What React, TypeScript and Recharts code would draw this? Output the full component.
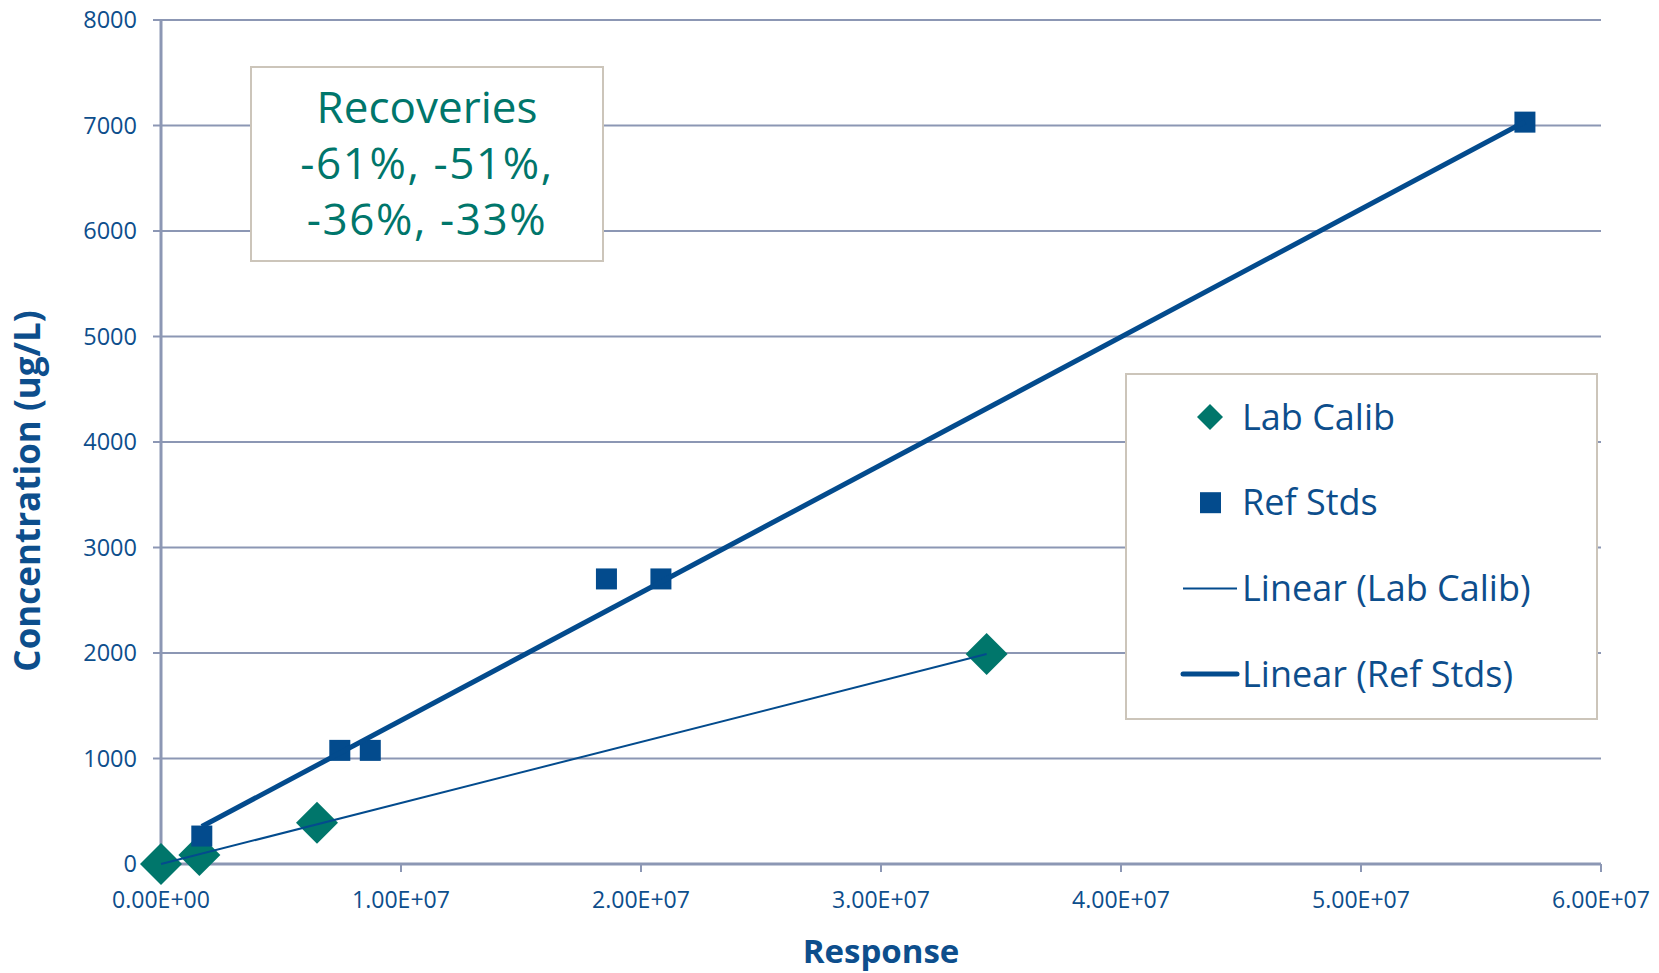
import React from 'react';
import { ScatterChart, Scatter, XAxis, YAxis, CartesianGrid } from 'recharts';

// ---- data ----
const labResponse = [0, 1.6e6, 6.5e6, 3.44e7];
const labConc = [0, 85, 390, 1990];
const refResponse = [1.7e6, 7.45e6, 8.72e6, 1.856e7, 2.083e7, 5.683e7];
const refConc = [265, 1077, 1077, 2702, 2702, 7032];
const labTrendResponse = [0, 3.44e7];
const labTrendConc = [0, 1990];
const refTrendResponse = [1.7e6, 5.683e7];
const refTrendConc = [355, 7035];
const xTicks = [0, 1e7, 2e7, 3e7, 4e7, 5e7, 6e7];
const xTickLabels = ['0.00E+00', '1.00E+07', '2.00E+07', '3.00E+07', '4.00E+07', '5.00E+07', '6.00E+07'];
const yTicks = [0, 1000, 2000, 3000, 4000, 5000, 6000, 7000, 8000];
const recoveryLines = ['Recoveries', '-61%, -51%,', '-36%, -33%'];
const legendLabels = ['Lab Calib', 'Ref Stds', 'Linear (Lab Calib)', 'Linear (Ref Stds)'];
const xTitle = 'Response';
const yTitle = 'Concentration (ug/L)';

const zip = (xs: number[], ys: number[]) => xs.map((x, i) => ({ x, y: ys[i] }));
const labData = zip(labResponse, labConc);
const refData = zip(refResponse, refConc);
const labTrend = zip(labTrendResponse, labTrendConc);
const refTrend = zip(refTrendResponse, refTrendConc);

const FONT = '"Open Sans", "Noto Sans", sans-serif';
const TEXT_BLUE = '#0D4E8C';
const BLUE = '#034B8D';
const TEAL = '#00766B';
const GRID = '#8C97B4';
const BOX = '#CCC5BA';

const Diamond = (props: any) => {
  const { cx, cy } = props;
  const r = 21;
  return <path d={`M${cx},${cy - r}L${cx + r},${cy}L${cx},${cy + r}L${cx - r},${cy}Z`} fill={TEAL} />;
};
const Square = (props: any) => {
  const { cx, cy } = props;
  const s = 21;
  return <rect x={cx - s / 2} y={cy - s / 2} width={s} height={s} fill={BLUE} />;
};
const NoShape = () => <g />;

const XTick = (props: any) => {
  const { x, y, payload } = props;
  const i = xTicks.indexOf(payload.value);
  return (
    <text x={x} y={y} dy="0.71em" textAnchor="middle" fill={TEXT_BLUE} fontFamily={FONT} fontSize={23}
      textLength={98} lengthAdjust="spacingAndGlyphs">
      {i >= 0 ? xTickLabels[i] : ''}
    </text>
  );
};
const YTick = (props: any) => {
  const { x, y, payload } = props;
  return (
    <text x={x} y={y} dy="0.355em" textAnchor="end" fill={TEXT_BLUE} fontFamily={FONT} fontSize={23.5}>
      {String(payload.value)}
    </text>
  );
};

export default function App() {
  return (
    <div style={{ position: 'absolute', left: 0, top: 0, width: 1659, height: 973, background: '#fff' }}>
      <ScatterChart width={1659} height={973} margin={{ top: 20, right: 58, bottom: 0, left: 0 }}>
        <CartesianGrid horizontal vertical={false} stroke={GRID} strokeWidth={2} />
        <XAxis type="number" dataKey="x" domain={[0, 6e7]} ticks={xTicks} height={109}
          axisLine={{ stroke: GRID, strokeWidth: 3 }} tickLine={{ stroke: GRID, strokeWidth: 2 }}
          tickSize={8} tickMargin={20} tick={<XTick />} interval={0} />
        <YAxis type="number" dataKey="y" domain={[0, 8000]} ticks={yTicks} width={161}
          axisLine={{ stroke: GRID, strokeWidth: 3 }} tickLine={{ stroke: GRID, strokeWidth: 2 }}
          tickSize={8} tickMargin={16} tick={<YTick />} interval={0} />
        <Scatter name="Lab Calib" data={labData} shape={<Diamond />} isAnimationActive={false} />
        <Scatter name="Ref Stds" data={refData} shape={<Square />} isAnimationActive={false} />
        <Scatter name="Linear (Lab Calib)" data={labTrend} shape={<NoShape />} line={{ stroke: BLUE, strokeWidth: 2 }}
          lineType="joint" isAnimationActive={false} />
        <Scatter name="Linear (Ref Stds)" data={refTrend} shape={<NoShape />} line={{ stroke: BLUE, strokeWidth: 5 }}
          lineType="joint" isAnimationActive={false} />
      </ScatterChart>
      <svg width={1659} height={973} style={{ position: 'absolute', left: 0, top: 0, pointerEvents: 'none' }}>
        {/* axis titles */}
        <text x={881} y={963} textAnchor="middle" fill={TEXT_BLUE} fontFamily={FONT} fontWeight={700} fontSize={33}>
          {xTitle}
        </text>
        <text x={40} y={491} transform="rotate(-90, 40, 491)" textAnchor="middle" fill={TEXT_BLUE}
          fontFamily={FONT} fontWeight={700} fontSize={35}>
          {yTitle}
        </text>
        {/* recoveries text box */}
        <rect x={251} y={67} width={352} height={194} fill="#fff" stroke={BOX} strokeWidth={2} />
        {recoveryLines.map((t, i) => (
          <text key={t} x={427} y={123 + i * 56} textAnchor="middle" fill={TEAL} fontFamily={FONT} fontSize={44}
            letterSpacing={i === 0 ? 0 : 1.6}>
            {t}
          </text>
        ))}
        {/* legend */}
        <rect x={1126} y={374} width={471} height={345} fill="#fff" stroke={BOX} strokeWidth={2} />
        {legendLabels.map((t, i) => {
          const cy = 417 + i * 85.7;
          let mark: any = null;
          if (i === 0) mark = <path d={`M1210,${cy - 13}L1223,${cy}L1210,${cy + 13}L1197,${cy}Z`} fill={TEAL} />;
          if (i === 1) mark = <rect x={1200} y={cy - 10.5} width={21} height={21} fill={BLUE} />;
          if (i === 2) mark = <line x1={1183} x2={1237} y1={cy} y2={cy} stroke={BLUE} strokeWidth={2} />;
          if (i === 3) mark = <line x1={1183} x2={1237} y1={cy} y2={cy} stroke={BLUE} strokeWidth={5} strokeLinecap="round" />;
          return (
            <g key={t}>
              {mark}
              <text x={1242} y={cy + 12.5} fill={TEXT_BLUE} fontFamily={FONT} fontSize={36}>{t}</text>
            </g>
          );
        })}
      </svg>
    </div>
  );
}
